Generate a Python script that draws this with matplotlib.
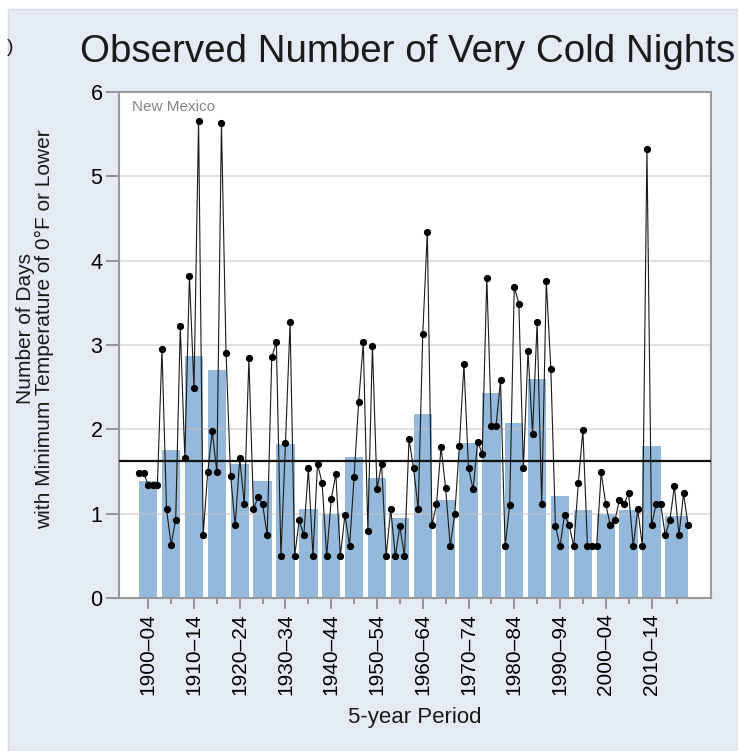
import matplotlib
matplotlib.use("Agg")
import matplotlib.pyplot as plt
from matplotlib.patches import Rectangle
import numpy as np

plt.rcParams['font.family'] = ['Liberation Sans', 'DejaVu Sans']

# Annual number of very cold nights (min temp <= 0°F), New Mexico
years = list(range(1900, 2021))
annual_days = [
    1.48, 1.48, 1.34, 1.34, 1.34, 2.95, 1.05, 0.63, 0.93, 3.22,   # 1900s
    1.66, 3.82, 2.49, 5.66, 0.745, 1.49, 1.98, 1.49, 5.63, 2.91,  # 1910s
    1.45, 0.86, 1.655, 1.11, 2.84, 1.05, 1.20, 1.11, 0.745, 2.86, # 1920s
    3.03, 0.50, 1.84, 3.27, 0.50, 0.92, 0.745, 1.54, 0.50, 1.59,  # 1930s
    1.365, 0.50, 1.17, 1.47, 0.50, 0.99, 0.615, 1.44, 2.33, 3.03, # 1940s
    0.80, 2.99, 1.29, 1.59, 0.50, 1.05, 0.50, 0.85, 0.50, 1.88,   # 1950s
    1.54, 1.05, 3.13, 4.345, 0.86, 1.11, 1.79, 1.30, 0.615, 1.00, # 1960s
    1.80, 2.77, 1.54, 1.29, 1.855, 1.71, 3.80, 2.035, 2.035, 2.58, # 1970s
    0.615, 1.10, 3.69, 3.49, 1.54, 2.93, 1.95, 3.27, 1.11, 3.76,  # 1980s
    2.71, 0.85, 0.615, 0.99, 0.86, 0.615, 1.36, 1.99, 0.615, 0.615, # 1990s
    0.615, 1.49, 1.11, 0.86, 0.92, 1.165, 1.11, 1.24, 0.615, 1.05, # 2000s
    0.615, 5.33, 0.86, 1.11, 1.11, 0.745, 0.92, 1.325, 0.745, 1.24, # 2010s
    0.86,                                                          # 2020
]

# 5-year period averages (the last period runs 2015-2020)
period_start = [1900, 1905, 1910, 1915, 1920, 1925, 1930, 1935, 1940, 1945,
                1950, 1955, 1960, 1965, 1970, 1975, 1980, 1985, 1990, 1995,
                2000, 2005, 2010, 2015]
period_end = [1904, 1909, 1914, 1919, 1924, 1929, 1934, 1939, 1944, 1949,
              1954, 1959, 1964, 1969, 1974, 1979, 1984, 1989, 1994, 1999,
              2004, 2009, 2014, 2020]
period_avg = [1.39, 1.75, 2.875, 2.70, 1.59, 1.39, 1.83, 1.05, 1.00, 1.675,
              1.42, 0.95, 2.18, 1.165, 1.84, 2.43, 2.08, 2.60, 1.21, 1.04,
              1.00, 1.04, 1.80, 0.97]
period_labels = ["1900–04", "1910–14", "1920–24", "1930–34", "1940–44",
                 "1950–54", "1960–64", "1970–74", "1980–84", "1990–94",
                 "2000–04", "2010–14"]

long_term_avg = 1.62

W, H = 738, 751
fig = plt.figure(figsize=(W / 100, H / 100), dpi=100)
fig.patch.set_facecolor("white")

# light blue panel behind the chart
fig.patches.append(Rectangle((8 / W, 0), 1 - 8 / W, 1 - 9 / H,
                             transform=fig.transFigure, facecolor="#e4ebf4",
                             edgecolor="#d6dbe0", linewidth=1.0, zorder=-5))

left, right, top, bottom = 118.5, 711, 92, 598
ax = fig.add_axes([left / W, 1 - bottom / H, (right - left) / W, (bottom - top) / H])
ax.set_zorder(2)
ax.set_facecolor("white")

starts = np.array(period_start, dtype=float)
ends = np.array(period_end, dtype=float)
ax.bar(starts, period_avg, width=ends - starts, align="edge",
       color="#94b9da", edgecolor="none", zorder=1)

for v in range(1, 6):
    ax.axhline(v, color="#c4c4c4", lw=1.2, alpha=0.6, zorder=2)

ax.axhline(long_term_avg, color="#111111", lw=1.6, zorder=3)

ax.plot(years, annual_days, color="#1a1a1a", lw=0.8, marker="o",
        markersize=4.2, markerfacecolor="black", markeredgecolor="black",
        zorder=4)

ax.set_xlim(1895.5, 2025)
ax.set_ylim(0, 6)

centers = (starts + ends) / 2
ax.set_xticks(centers[0::2])
ax.set_xticklabels(period_labels, rotation=90, fontsize=15)
ax.set_xticks(centers[1::2], minor=True)
ax.tick_params(axis="x", which="major", length=8, width=1.3, color="#8c8c8c", pad=3)
ax.tick_params(axis="x", which="minor", length=4.5, width=1.3, color="#8c8c8c")

ax.set_yticks(range(0, 7))
ax.set_yticklabels([str(v) for v in range(0, 7)], fontsize=15.5)
ax.tick_params(axis="y", length=9.5, width=1.3, color="#8c8c8c", pad=2)

for sp in ax.spines.values():
    sp.set_color("#9a9a9a")
    sp.set_linewidth(1.5)

ax.text(131.7 / W, 1 - 111 / H, "New Mexico", transform=fig.transFigure,
        fontsize=11, color="#858585", ha="left", va="baseline")

fig.text(80 / W, 1 - 62 / H, "Observed Number of Very Cold Nights",
         fontsize=27.7, color="#1a1a1a", ha="left", va="baseline")
fig.text(10 / W, 1 - 48 / H, ")", fontsize=14, color="#1a1a1a",
         ha="center", va="center")

fig.text(414.5 / W, 1 - 718 / H, "5-year Period", fontsize=16,
         color="#1a1a1a", ha="center", va="center")
fig.text(35 / W, 1 - 329 / H,
         "Number of Days\nwith Minimum Temperature of 0°F or Lower",
         fontsize=15, color="#1a1a1a", rotation=90, ha="center",
         va="center", multialignment="center", linespacing=0.95)

fig.savefig("out.png", dpi=100, facecolor=fig.get_facecolor())
